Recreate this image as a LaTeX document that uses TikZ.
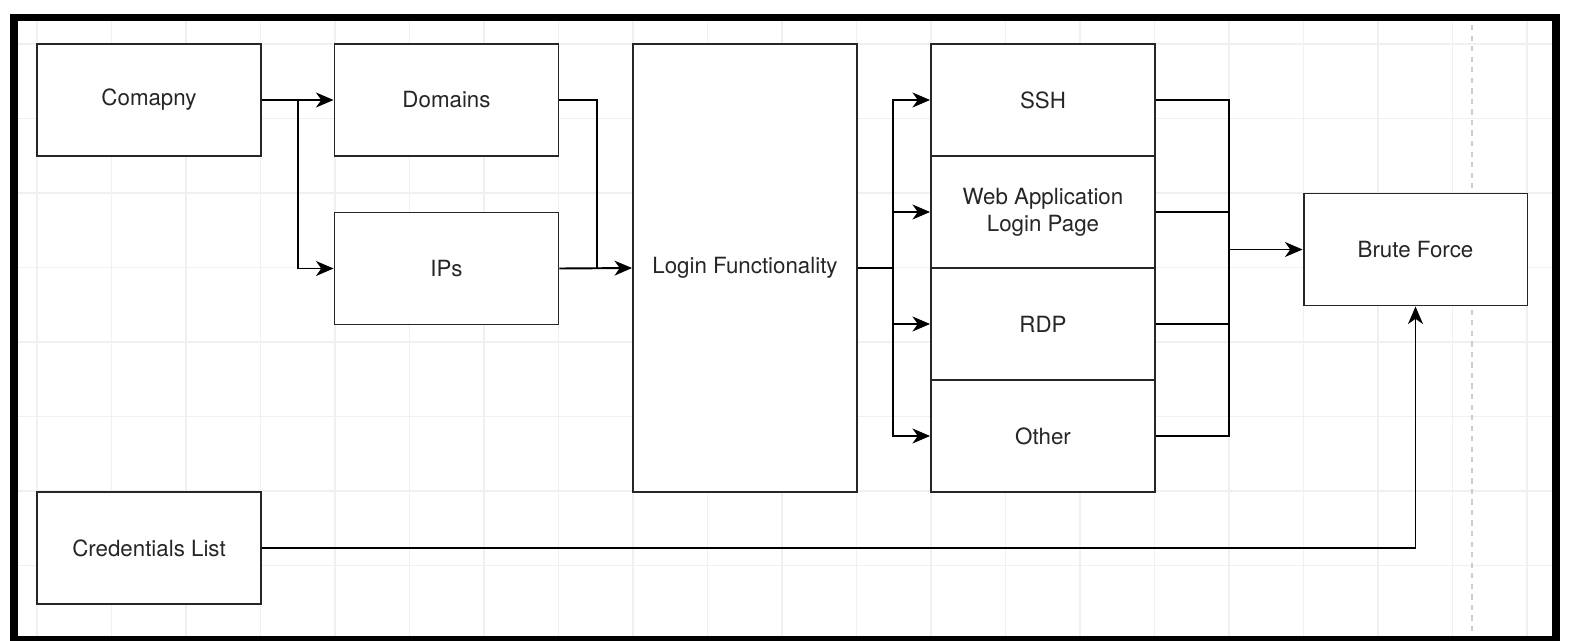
\documentclass[tikz,border=0pt]{standalone}
\usepackage{fontspec}
\setsansfont{TeX Gyre Heros}
\usetikzlibrary{arrows.meta}
\usetikzlibrary{shapes}

\begin{document}
\begin{tikzpicture}[x = 0.02cm, y = -0.02cm, font=\sffamily\fontsize{12.7}{15.5}\selectfont]
	\tikzstyle{gridStyle} = [draw = gray!12, line width = 0.6pt]
	\tikzstyle{boxStyle} = [shape = rectangle, draw = black!85, fill = white, line width = 1.1pt, minimum width = 4.48cm, minimum height = 2.24cm, align = center, inner sep = 2pt, text = black!85]
	\tikzstyle{tallStyle} = [boxStyle, minimum height = 8.96cm]
	\tikzstyle{lineStyle} = [draw, line width = 1.1pt]
	\tikzstyle{arrowStyle} = [lineStyle, -{Stealth[length = 10pt, width = 8.5pt, inset = 3pt]}]
	\useasboundingbox (0,0) rectangle (1571,640);
	% background grid
	\foreach \gx in {0,...,20}
		\draw[gridStyle] ({37+74.5*\gx},20) -- ({37+74.5*\gx},640);
	\foreach \gy in {0,...,8}
		\draw[gridStyle] (18,{44+74.5*\gy}) -- (1552,{44+74.5*\gy});
	\draw[gray!40, line width = 0.8pt, dashed] (1472,25) -- (1472,640);
	% boxes
	\node[boxStyle] (company) at (149,100) {Comapny};
	\node[boxStyle] (domains) at (446.5,100) {Domains};
	\node[boxStyle] (ips) at (446.5,268.5) {IPs};
	\node[tallStyle] (login) at (745,268) {Login Functionality};
	\node[boxStyle] (ssh) at (1043,100) {SSH};
	\node[boxStyle] (webapp) at (1043,212) {Web Application\\Login Page};
	\node[boxStyle] (rdp) at (1043,324) {RDP};
	\node[boxStyle] (other) at (1043,436) {Other};
	\node[boxStyle] (brute) at (1415.5,249.5) {Brute Force};
	\node[boxStyle] (creds) at (149,548) {Credentials List};
	% connectors
	\coordinate (split1) at (298,100);
	\coordinate (join1) at (597,268.5);
	\coordinate (split2) at (893,268);
	\coordinate (join2) at (1229,249.5);
	\draw[arrowStyle] (company.east) -- (domains.west);
	\draw[arrowStyle] (split1) |- (ips.west);
	\draw[lineStyle] (domains.east) -| (join1);
	\draw[arrowStyle] (ips.east) -- (login.west);
	\draw[lineStyle] (login.east) -- (split2);
	\foreach \n in {ssh, webapp, rdp, other}
		\draw[arrowStyle] (split2) |- (\n.west);
	\foreach \n in {ssh, webapp, rdp, other}
		\draw[lineStyle] (\n.east) -| (join2);
	\draw[arrowStyle] (join2) -- (brute.west);
	\draw[arrowStyle] (creds.east) -| (brute.south);
	% frame
	\draw[line width = 4.5pt] (14,17.5) rectangle (1556,640);
\end{tikzpicture}
\end{document}
